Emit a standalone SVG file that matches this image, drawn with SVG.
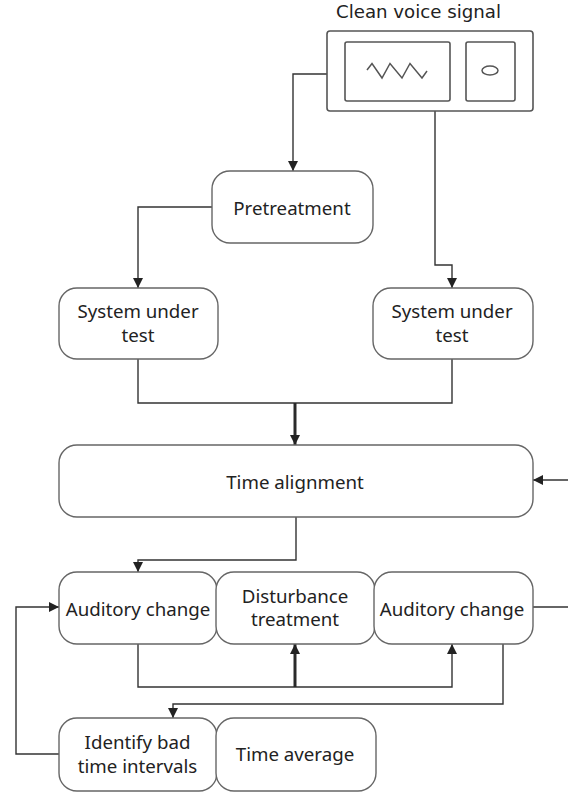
<svg xmlns="http://www.w3.org/2000/svg" width="568" height="794" viewBox="0 0 568 794">
<style>
.n{fill:#fff;stroke:#666;stroke-width:1.4}
.d{fill:#fff;stroke:#555;stroke-width:1.6}
.s{fill:none;stroke:#555;stroke-width:1.5}
.c{fill:none;stroke:#333;stroke-width:1.4}
.t{stroke-width:3;stroke:#2a2a2a}
text{font-family:"Noto Sans","Open Sans","DejaVu Sans",sans-serif;font-size:18.7px;fill:#222;text-anchor:middle}
.h{font-family:"DejaVu Sans","Noto Sans",sans-serif;font-size:18.2px}
</style>
<defs>
<marker id="a" markerUnits="userSpaceOnUse" markerWidth="11" markerHeight="11" refX="10" refY="5.5" orient="auto"><path d="M0 0.5L10 5.500L0 10.500Z" fill="#222"/></marker>
</defs>
<rect width="568" height="794" fill="#fff"/>
<g id="connectors">
<path class="c" marker-end="url(#a)" d="M327 74H293V171"/>
<path class="c" marker-end="url(#a)" d="M212 207H138V288"/>
<path class="c" marker-end="url(#a)" d="M435 111V265H452V288"/>
<path class="c" d="M138 359V403H452V359"/>
<path class="c t" marker-end="url(#a)" d="M295 403V445"/>
<path class="c" marker-end="url(#a)" d="M568 480H533"/>
<path class="c" marker-end="url(#a)" d="M296 517V560H138V572"/>
<path class="c" marker-end="url(#a)" d="M138 644V687H452V644"/>
<path class="c t" marker-end="url(#a)" d="M295 687V644"/>
<path class="c" d="M533 607H568"/>
<path class="c" marker-end="url(#a)" d="M503 644V704H173V718"/>
<path class="c" marker-end="url(#a)" d="M59 754H16V607H59"/>
</g>
<g id="clean-voice-signal">
<text class="h" x="418.500" y="18">Clean voice signal</text>
<rect class="d" x="327" y="31" width="206" height="80" rx="3"/>
<rect class="d" x="345" y="42" width="105" height="59" rx="2"/>
<rect class="d" x="466" y="42" width="49" height="59" rx="2"/>
<path class="s" d="M367 70L372 63.5L382 78L390 63.5L402 78L410 63.5L422 78L427 71"/>
<ellipse class="s" cx="490" cy="70.500" rx="8" ry="4.500"/>
</g>
<g id="pretreatment"><rect class="n" x="212" y="171" width="161" height="72" rx="18"/><text x="292" y="215">Pretreatment</text></g>
<g id="system-left"><rect class="n" x="59" y="288" width="159" height="71" rx="18"/><text x="138" y="318">System under</text><text x="138" y="342">test</text></g>
<g id="system-right"><rect class="n" x="373" y="288" width="160" height="71" rx="18"/><text x="452" y="318">System under</text><text x="452" y="342">test</text></g>
<g id="time-alignment"><rect class="n" x="59" y="445" width="474" height="72" rx="18"/><text x="295" y="488.500">Time alignment</text></g>
<g id="auditory-left"><rect class="n" x="59" y="572" width="158" height="72" rx="18"/><text x="138" y="615.500">Auditory change</text></g>
<g id="disturbance"><rect class="n" x="216" y="572" width="159" height="72" rx="18"/><text x="295" y="603">Disturbance</text><text x="295" y="626">treatment</text></g>
<g id="auditory-right"><rect class="n" x="374" y="572" width="159" height="72" rx="18"/><text x="452" y="615.500">Auditory change</text></g>
<g id="identify"><rect class="n" x="59" y="718" width="158" height="73" rx="18"/><text x="137.500" y="749">Identify bad</text><text x="137.500" y="773">time intervals</text></g>
<g id="time-average"><rect class="n" x="216" y="718" width="160" height="73" rx="18"/><text x="295" y="761">Time average</text></g>
</svg>
